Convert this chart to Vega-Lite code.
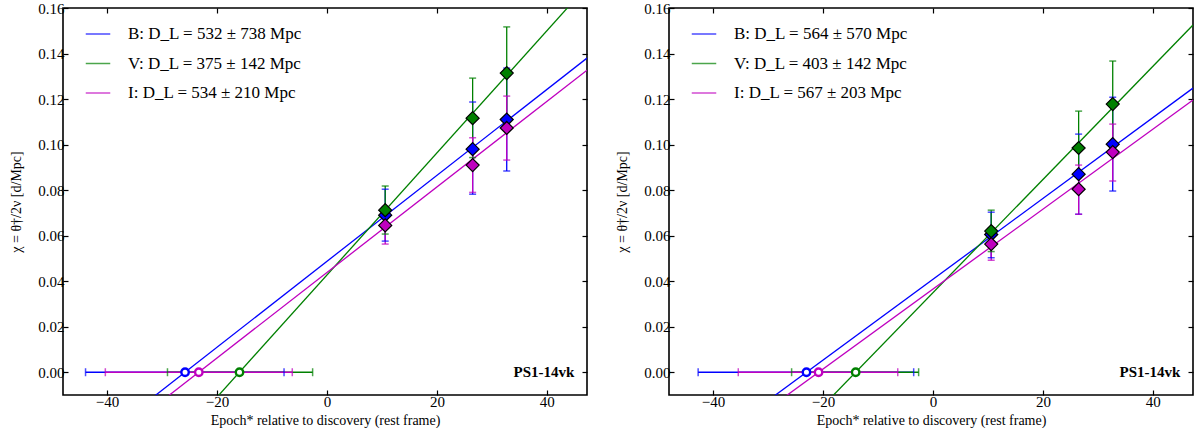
{
  "$schema": "https://vega.github.io/schema/vega-lite/v6.json",
  "background": "#ffffff",
  "padding": {"top": 0, "left": 8, "right": 0, "bottom": 0},
  "spacing": 25,
  "datasets": {
    "pts": [
      {"panel": "a", "band": "B", "epoch": 10.6, "chi": 0.069, "lo": 0.0576, "hi": 0.0804},
      {"panel": "a", "band": "B", "epoch": 26.5, "chi": 0.098, "lo": 0.0782, "hi": 0.1187},
      {"panel": "a", "band": "B", "epoch": 32.7, "chi": 0.111, "lo": 0.0884, "hi": 0.1336},
      {"panel": "a", "band": "V", "epoch": 10.6, "chi": 0.0712, "lo": 0.0607, "hi": 0.0818},
      {"panel": "a", "band": "V", "epoch": 26.5, "chi": 0.1116, "lo": 0.0943, "hi": 0.1292},
      {"panel": "a", "band": "V", "epoch": 32.7, "chi": 0.1314, "lo": 0.111, "hi": 0.1517},
      {"panel": "a", "band": "I", "epoch": 10.6, "chi": 0.0645, "lo": 0.0563, "hi": 0.0728},
      {"panel": "a", "band": "I", "epoch": 26.5, "chi": 0.091, "lo": 0.079, "hi": 0.103},
      {"panel": "a", "band": "I", "epoch": 32.7, "chi": 0.1073, "lo": 0.0932, "hi": 0.1213},
      {"panel": "b", "band": "B", "epoch": 10.6, "chi": 0.0605, "lo": 0.0503, "hi": 0.0703},
      {"panel": "b", "band": "B", "epoch": 26.5, "chi": 0.087, "lo": 0.0694, "hi": 0.1046},
      {"panel": "b", "band": "B", "epoch": 32.7, "chi": 0.1002, "lo": 0.0796, "hi": 0.1208},
      {"panel": "b", "band": "V", "epoch": 10.6, "chi": 0.062, "lo": 0.053, "hi": 0.0712},
      {"panel": "b", "band": "V", "epoch": 26.5, "chi": 0.0985, "lo": 0.082, "hi": 0.1147},
      {"panel": "b", "band": "V", "epoch": 32.7, "chi": 0.1178, "lo": 0.099, "hi": 0.1367},
      {"panel": "b", "band": "I", "epoch": 10.6, "chi": 0.0563, "lo": 0.0492, "hi": 0.0633},
      {"panel": "b", "band": "I", "epoch": 26.5, "chi": 0.0804, "lo": 0.0694, "hi": 0.091},
      {"panel": "b", "band": "I", "epoch": 32.7, "chi": 0.0967, "lo": 0.084, "hi": 0.109}
    ],
    "zeros": [
      {"panel": "a", "band": "B", "t0": -25.8, "lo": -43.9, "hi": -7.8},
      {"panel": "a", "band": "V", "t0": -15.9, "lo": -29.0, "hi": -2.6},
      {"panel": "a", "band": "I", "t0": -23.3, "lo": -40.3, "hi": -6.3},
      {"panel": "b", "band": "B", "t0": -23.0, "lo": -42.7, "hi": -3.5},
      {"panel": "b", "band": "V", "t0": -14.05, "lo": -25.7, "hi": -2.6},
      {"panel": "b", "band": "I", "t0": -20.8, "lo": -35.4, "hi": -6.4}
    ],
    "fits": [
      {"panel": "a", "band": "B", "x": -48, "y": -0.0419},
      {"panel": "a", "band": "B", "x": 47.3, "y": 0.138},
      {"panel": "a", "band": "V", "x": -48, "y": -0.0861},
      {"panel": "a", "band": "V", "x": 47.3, "y": 0.1696},
      {"panel": "a", "band": "I", "x": -48, "y": -0.0464},
      {"panel": "a", "band": "I", "x": 47.3, "y": 0.1327},
      {"panel": "b", "band": "B", "x": -48, "y": -0.0444},
      {"panel": "b", "band": "B", "x": 47.3, "y": 0.1248},
      {"panel": "b", "band": "V", "x": -48, "y": -0.0844},
      {"panel": "b", "band": "V", "x": 47.3, "y": 0.1525},
      {"panel": "b", "band": "I", "x": -48, "y": -0.0478},
      {"panel": "b", "band": "I", "x": 47.3, "y": 0.1196}
    ]
  },
  "hconcat": [
    {
      "width": 524,
      "height": 387,
      "resolve": {"axis": {"x": "independent", "y": "independent"}},
      "layer": [
        {
          "data": {"name": "fits"},
          "transform": [{"filter": "datum.panel == 'a'"}],
          "mark": {"type": "line", "clip": true, "strokeWidth": 1.3},
          "encoding": {
            "x": {"field": "x", "type": "quantitative", "scale": {"domain": [-48, 47.3], "nice": false, "zero": false},
              "axis": {"orient": "bottom", "values": [-40, -20, 0, 20, 40], "format": "d", "title": "Epoch* relative to discovery (rest frame)"}},
            "y": {"field": "y", "type": "quantitative", "scale": {"domain": [-0.01, 0.16], "nice": false, "zero": false},
              "axis": {"orient": "left", "values": [0, 0.02, 0.04, 0.06, 0.08, 0.1, 0.12, 0.14, 0.16], "format": ".2f", "title": "χ = θ†/2ν  [d/Mpc]"}},
            "color": {"field": "band", "type": "nominal", "sort": ["B", "V", "I"],
              "scale": {"domain": ["B", "V", "I"], "range": ["#0000ff", "#008000", "#bf00bf"]},
              "legend": {"orient": "none", "legendX": 22, "legendY": 13, "title": null,
                "labelExpr": "datum.label == 'B' ? 'B: D_L = 532 ± 738 Mpc' : datum.label == 'V' ? 'V: D_L = 375 ± 142 Mpc' : 'I: D_L = 534 ± 210 Mpc'"}}
          }
        },
        {
          "data": {"name": "zeros"},
          "transform": [{"filter": "datum.panel == 'a'"}],
          "mark": {"type": "rule", "strokeWidth": 1.3},
          "encoding": {
            "x": {"field": "lo", "type": "quantitative", "axis": null},
            "x2": {"field": "hi"},
            "y": {"datum": 0, "axis": null},
            "color": {"field": "band", "type": "nominal"}
          }
        },
        {
          "data": {"name": "zeros"},
          "transform": [{"filter": "datum.panel == 'a'"}, {"fold": ["lo", "hi"], "as": ["end", "tx"]}],
          "mark": {"type": "tick", "orient": "vertical", "size": 8, "thickness": 1.5},
          "encoding": {
            "x": {"field": "tx", "type": "quantitative", "axis": null},
            "y": {"datum": 0, "axis": null},
            "color": {"field": "band", "type": "nominal"}
          }
        },
        {
          "data": {"name": "zeros"},
          "transform": [{"filter": "datum.panel == 'a'"}],
          "mark": {"type": "point", "shape": "circle", "filled": false, "fill": "#ffffff", "size": 55, "strokeWidth": 2.4, "opacity": 1},
          "encoding": {
            "x": {"field": "t0", "type": "quantitative", "axis": null},
            "y": {"datum": 0, "axis": null},
            "color": {"field": "band", "type": "nominal"}
          }
        },
        {
          "data": {"name": "pts"},
          "transform": [{"filter": "datum.panel == 'a'"}],
          "mark": {"type": "rule", "strokeWidth": 1.3},
          "encoding": {
            "x": {"field": "epoch", "type": "quantitative", "axis": null},
            "y": {"field": "lo", "type": "quantitative", "axis": null},
            "y2": {"field": "hi"},
            "color": {"field": "band", "type": "nominal"}
          }
        },
        {
          "data": {"name": "pts"},
          "transform": [{"filter": "datum.panel == 'a'"}, {"fold": ["lo", "hi"], "as": ["end", "ty"]}],
          "mark": {"type": "tick", "orient": "horizontal", "size": 7, "thickness": 1.5},
          "encoding": {
            "x": {"field": "epoch", "type": "quantitative", "axis": null},
            "y": {"field": "ty", "type": "quantitative", "axis": null},
            "color": {"field": "band", "type": "nominal"}
          }
        },
        {
          "data": {"name": "pts"},
          "transform": [{"filter": "datum.panel == 'a'"}],
          "mark": {"type": "point", "shape": "diamond", "filled": true, "size": 170, "stroke": "#000000", "strokeWidth": 1.2, "opacity": 1},
          "encoding": {
            "x": {"field": "epoch", "type": "quantitative", "axis": {"orient": "top", "values": [-40, -20, 0, 20, 40], "labels": false, "title": null}},
            "y": {"field": "chi", "type": "quantitative", "axis": {"orient": "right", "values": [0, 0.02, 0.04, 0.06, 0.08, 0.1, 0.12, 0.14, 0.16], "labels": false, "title": null}},
            "color": {"field": "band", "type": "nominal"}
          }
        },
        {
          "data": {"values": [{"label": "PS1-14vk"}]},
          "mark": {"type": "text", "align": "right", "baseline": "middle", "font": "Liberation Serif", "fontWeight": "bold", "fontSize": 15, "color": "#000000"},
          "encoding": {
            "x": {"datum": 45, "axis": null},
            "y": {"datum": 0, "axis": null},
            "text": {"field": "label"}
          }
        }
      ]
    },
    {
      "width": 524,
      "height": 387,
      "resolve": {"axis": {"x": "independent", "y": "independent"}},
      "layer": [
        {
          "data": {"name": "fits"},
          "transform": [{"filter": "datum.panel == 'b'"}],
          "mark": {"type": "line", "clip": true, "strokeWidth": 1.3},
          "encoding": {
            "x": {"field": "x", "type": "quantitative", "scale": {"domain": [-48, 47.3], "nice": false, "zero": false},
              "axis": {"orient": "bottom", "values": [-40, -20, 0, 20, 40], "format": "d", "title": "Epoch* relative to discovery (rest frame)"}},
            "y": {"field": "y", "type": "quantitative", "scale": {"domain": [-0.01, 0.16], "nice": false, "zero": false},
              "axis": {"orient": "left", "values": [0, 0.02, 0.04, 0.06, 0.08, 0.1, 0.12, 0.14, 0.16], "format": ".2f", "title": "χ = θ†/2ν  [d/Mpc]"}},
            "color": {"field": "band", "type": "nominal", "sort": ["B", "V", "I"],
              "scale": {"domain": ["B", "V", "I"], "range": ["#0000ff", "#008000", "#bf00bf"]},
              "legend": {"orient": "none", "legendX": 22, "legendY": 13, "title": null,
                "labelExpr": "datum.label == 'B' ? 'B: D_L = 564 ± 570 Mpc' : datum.label == 'V' ? 'V: D_L = 403 ± 142 Mpc' : 'I: D_L = 567 ± 203 Mpc'"}}
          }
        },
        {
          "data": {"name": "zeros"},
          "transform": [{"filter": "datum.panel == 'b'"}],
          "mark": {"type": "rule", "strokeWidth": 1.3},
          "encoding": {
            "x": {"field": "lo", "type": "quantitative", "axis": null},
            "x2": {"field": "hi"},
            "y": {"datum": 0, "axis": null},
            "color": {"field": "band", "type": "nominal"}
          }
        },
        {
          "data": {"name": "zeros"},
          "transform": [{"filter": "datum.panel == 'b'"}, {"fold": ["lo", "hi"], "as": ["end", "tx"]}],
          "mark": {"type": "tick", "orient": "vertical", "size": 8, "thickness": 1.5},
          "encoding": {
            "x": {"field": "tx", "type": "quantitative", "axis": null},
            "y": {"datum": 0, "axis": null},
            "color": {"field": "band", "type": "nominal"}
          }
        },
        {
          "data": {"name": "zeros"},
          "transform": [{"filter": "datum.panel == 'b'"}],
          "mark": {"type": "point", "shape": "circle", "filled": false, "fill": "#ffffff", "size": 55, "strokeWidth": 2.4, "opacity": 1},
          "encoding": {
            "x": {"field": "t0", "type": "quantitative", "axis": null},
            "y": {"datum": 0, "axis": null},
            "color": {"field": "band", "type": "nominal"}
          }
        },
        {
          "data": {"name": "pts"},
          "transform": [{"filter": "datum.panel == 'b'"}],
          "mark": {"type": "rule", "strokeWidth": 1.3},
          "encoding": {
            "x": {"field": "epoch", "type": "quantitative", "axis": null},
            "y": {"field": "lo", "type": "quantitative", "axis": null},
            "y2": {"field": "hi"},
            "color": {"field": "band", "type": "nominal"}
          }
        },
        {
          "data": {"name": "pts"},
          "transform": [{"filter": "datum.panel == 'b'"}, {"fold": ["lo", "hi"], "as": ["end", "ty"]}],
          "mark": {"type": "tick", "orient": "horizontal", "size": 7, "thickness": 1.5},
          "encoding": {
            "x": {"field": "epoch", "type": "quantitative", "axis": null},
            "y": {"field": "ty", "type": "quantitative", "axis": null},
            "color": {"field": "band", "type": "nominal"}
          }
        },
        {
          "data": {"name": "pts"},
          "transform": [{"filter": "datum.panel == 'b'"}],
          "mark": {"type": "point", "shape": "diamond", "filled": true, "size": 170, "stroke": "#000000", "strokeWidth": 1.2, "opacity": 1},
          "encoding": {
            "x": {"field": "epoch", "type": "quantitative", "axis": {"orient": "top", "values": [-40, -20, 0, 20, 40], "labels": false, "title": null}},
            "y": {"field": "chi", "type": "quantitative", "axis": {"orient": "right", "values": [0, 0.02, 0.04, 0.06, 0.08, 0.1, 0.12, 0.14, 0.16], "labels": false, "title": null}},
            "color": {"field": "band", "type": "nominal"}
          }
        },
        {
          "data": {"values": [{"label": "PS1-14vk"}]},
          "mark": {"type": "text", "align": "right", "baseline": "middle", "font": "Liberation Serif", "fontWeight": "bold", "fontSize": 15, "color": "#000000"},
          "encoding": {
            "x": {"datum": 45, "axis": null},
            "y": {"datum": 0, "axis": null},
            "text": {"field": "label"}
          }
        }
      ]
    }
  ],
  "resolve": {"legend": {"color": "independent"}},
  "config": {
    "font": "Liberation Serif",
    "view": {"stroke": "#000000", "strokeWidth": 1.6},
    "axis": {
      "domain": false,
      "grid": false,
      "ticks": true,
      "tickSize": -5,
      "tickWidth": 1.2,
      "tickColor": "#000000",
      "labelFont": "Liberation Serif",
      "labelFontSize": 15,
      "labelColor": "#000000",
      "labelPadding": 4,
      "titleFont": "Liberation Serif",
      "titleFontSize": 14,
      "titleFontWeight": "normal",
      "titleColor": "#000000"
    },
    "axisX": {"titlePadding": 4},
    "axisY": {"titlePadding": 14},
    "legend": {
      "symbolType": "stroke",
      "symbolSize": 600,
      "symbolStrokeWidth": 1.5,
      "labelFont": "Liberation Serif",
      "labelFontSize": 17,
      "labelColor": "#000000",
      "labelOffset": 17,
      "labelLimit": 400,
      "rowPadding": 8.5,
      "padding": 0
    }
  }
}
